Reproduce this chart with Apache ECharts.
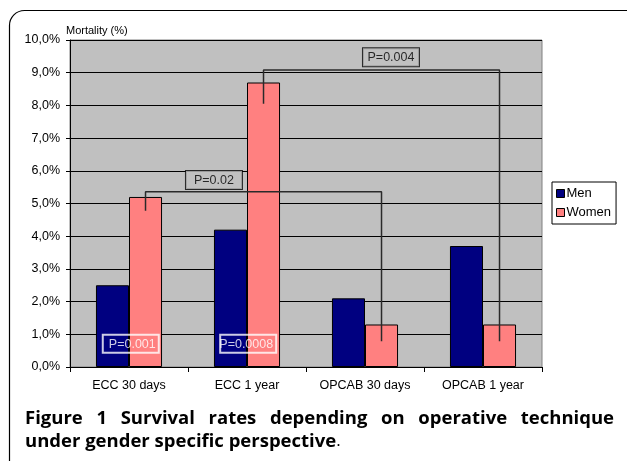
<!DOCTYPE html>
<html><head><meta charset="utf-8">
<script src="https://cdn.jsdelivr.net/npm/echarts@6/dist/echarts.min.js"></script>
<style>html,body{margin:0;padding:0;background:#fff}#c{width:627px;height:461px}</style>
</head><body><div id="c"></div>
<script>
var categories = ['ECC 30 days', 'ECC 1 year', 'OPCAB 30 days', 'OPCAB 1 year'];
var men = [2.5, 4.2, 2.1, 3.7];
var women = [5.2, 8.7, 1.3, 1.3];
var yTicks = [0, 1, 2, 3, 4, 5, 6, 7, 8, 9, 10];
// brackets: [x, y] in category units (0..4) and percent
var bracket002 = [[0.64, 4.78], [0.64, 5.36], [2.64, 5.36], [2.64, 0.79]];
var bracket0004 = [[1.64, 8.05], [1.64, 9.08], [3.64, 9.08], [3.64, 0.79]];
// P-value boxes: [x, y, text]
var pGray = [[1.22, 5.72, 'P=0.02'], [2.72, 9.47, 'P=0.004']];
var pWhite = [[0.515, 0.71, 'P=0.001'], [1.51, 0.71, 'P=0.0008']];
var captionLine1 = ['Figure', '1', 'Survival', 'rates', 'depending', 'on', 'operative', 'technique'];
var captionLine2 = 'under gender specific perspective';

var chart = echarts.init(document.getElementById('c'));
var F = 'Liberation Sans, Arial, sans-serif';
function bracketSeries(d) {
  return {type: 'line', xAxisIndex: 1, data: d, symbol: 'none', silent: true,
    lineStyle: {color: '#2a2a2a', width: 1.5}, z: 5};
}
function boxSeries(d, col, bg, align) {
  return {type: 'scatter', xAxisIndex: 1, symbolSize: 0, silent: true, z: 6,
    data: d.map(function (p) { return {value: [p[0], p[1]], name: p[2]}; }),
    label: {show: true, position: 'inside', formatter: '{t|{b}}', color: col,
      borderColor: col, borderWidth: 1, backgroundColor: bg, padding: [3, 3, 2, 3],
      rich: {t: {width: 50, align: align, color: col, fontFamily: F, fontSize: 12.5}}}};
}
// caption layout (justified first line)
var cv = document.createElement('canvas').getContext('2d');
var capSize = 18.5, capX0 = 25, capX1 = 614;
var widths = captionLine1.map(function (w) { cv.font = 'bold ' + capSize + 'px "Open Sans"'; return cv.measureText(w).width; });
var total = widths.reduce(function (a, b) { return a + b; }, 0);
var gap = (capX1 - capX0 - total) / (captionLine1.length - 1);
var graphics = [
  {type: 'rect', shape: {x: 9.5, y: 10.5, width: 700, height: 480, r: [15, 0, 0, 0]}, style: {fill: null, stroke: '#000', lineWidth: 1.2}}
];
var xx = capX0;
captionLine1.forEach(function (w, i) {
  graphics.push({type: 'text', style: {x: xx, y: 418.5, text: w, verticalAlign: 'middle', fill: '#000',
    fontFamily: 'Open Sans', fontSize: capSize, fontWeight: 'bold'}});
  xx += widths[i] + gap;
});
graphics.push({type: 'text', style: {x: capX0, y: 441.5, verticalAlign: 'middle',
  text: '{m|' + captionLine2 + '}{s|.}',
  rich: {m: {fontSize: capSize, fontWeight: 'bold', fontFamily: 'Open Sans', fill: '#000'},
         s: {fontSize: 17, fontFamily: 'Open Sans', fill: '#000'}}}});

chart.setOption({
  animation: false,
  backgroundColor: '#fff',
  grid: {left: 70, right: 85, top: 40, bottom: 94, show: true, backgroundColor: '#c0c0c0', borderColor: '#808080', borderWidth: 1},
  legend: {orient: 'vertical', left: 552, top: 182, data: ['Men', 'Women'], icon: 'rect', itemWidth: 8, itemHeight: 8,
    itemGap: 6, padding: [5, 5, 5, 4], itemStyle: {borderColor: '#000', borderWidth: 1},
    backgroundColor: '#fff', borderColor: '#000', borderWidth: 1,
    textStyle: {fontFamily: F, fontSize: 13, color: '#000', padding: [0, 0, 0, -3]}},
  xAxis: [{type: 'category', data: categories,
    axisLine: {lineStyle: {color: '#000'}}, axisTick: {show: true, length: 5, lineStyle: {color: '#000'}},
    axisLabel: {interval: 0, color: '#000', fontFamily: F, fontSize: 12.5, margin: 12}},
    {type: 'value', min: 0, max: 4, show: false}],
  yAxis: {type: 'value', min: 0, max: 10, interval: 1,
    name: 'Mortality (%)', nameLocation: 'end', nameGap: 4,
    nameTextStyle: {fontFamily: F, fontSize: 11, color: '#000', align: 'left', padding: [0, 0, 0, -4]},
    axisLine: {show: true, lineStyle: {color: '#000'}}, axisTick: {show: true, length: 4, lineStyle: {color: '#000'}},
    axisLabel: {color: '#000', fontFamily: F, fontSize: 12.5, margin: 10,
      formatter: function (v) { return yTicks.indexOf(v) >= 0 ? v.toFixed(1).replace('.', ',') + '%' : ''; }},
    splitLine: {lineStyle: {color: '#000', width: 1}}},
  series: [
    {name: 'Men', type: 'bar', data: men, barGap: '0%', barCategoryGap: '44%',
      itemStyle: {color: '#000080', borderColor: '#000', borderWidth: 1}},
    {name: 'Women', type: 'bar', data: women,
      itemStyle: {color: '#ff8080', borderColor: '#000', borderWidth: 1}},
    bracketSeries(bracket002), bracketSeries(bracket0004),
    boxSeries(pGray, '#000', '#c0c0c0', 'center'), boxSeries(pWhite, '#fff', 'transparent', 'right')
  ],
  graphic: graphics
});
</script></body></html>
